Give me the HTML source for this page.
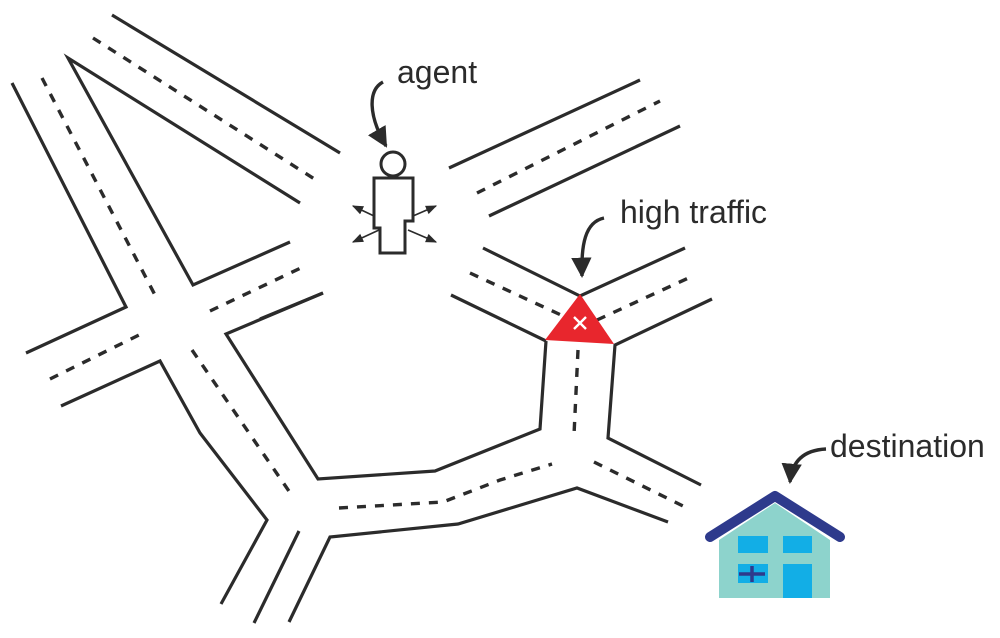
<!DOCTYPE html>
<html><head><meta charset="utf-8"><style>
html,body{margin:0;padding:0;background:#fff;}
svg{display:block}
text{font-family:"Liberation Sans",sans-serif;font-size:32px;fill:#2b2b2b}
</style></head><body>
<svg width="1000" height="638" viewBox="0 0 1000 638" xmlns="http://www.w3.org/2000/svg">
<defs>
<marker id="ah" viewBox="0 0 10 10" refX="9" refY="5" markerWidth="6" markerHeight="6" orient="auto"><path d="M0,0 L10,5 L0,10 z" fill="#2b2b2b"/></marker>
<marker id="sm" viewBox="0 0 10 10" refX="9" refY="5" markerWidth="7" markerHeight="7" orient="auto"><path d="M0,1 L10,5 L0,9 z" fill="#2b2b2b"/></marker>
</defs>
<g fill="none" stroke="#2b2b2b" stroke-width="3.2">
<polyline points="112,15 340,153"/>
<polyline points="300,203 68,58 193,285 290,242"/>
<polyline points="12,83 126,307 26,353"/>
<polyline points="61,406 160,361 200,433 267,520 221,604"/>
<polyline points="323,293 226,334 318,479 435,471 540,429 546,341"/>
<polyline points="299,531 254,623"/>
<polyline points="289,622 330,537 458,524 577,488 668,522"/>
<polyline points="449,168 640,80"/>
<polyline points="489,216 680,126"/>
<polyline points="483,248 580,296 685,248"/>
<polyline points="451,295 546,341"/>
<polyline points="712,299 615,345 608,438 701,485"/>
<polyline points="260,319 323,293"/>
</g>
<g fill="none" stroke="#2b2b2b" stroke-width="3.4" stroke-dasharray="9,9">
<polyline points="93,38 316,180"/>
<polyline points="42,78 155,295"/>
<polyline points="50,379 143,333"/>
<polyline points="210,311 305,266"/>
<polyline points="192,350 293,497"/>
<polyline points="339,508 443,502 500,480 552,464"/>
<polyline points="477,193 660,101"/>
<polyline points="470,273 561,315"/>
<polyline points="597,320 695,275"/>
<polyline points="578,350 574,435"/>
<polyline points="594,462 685,507"/>
</g>
<polygon points="580,294 545,340 614,344" fill="#e8262d"/>
<path d="M574,317 L586,329 M586,317 L574,329" stroke="#fff" stroke-width="2.4"/>
<g fill="#fff" stroke="#2b2b2b" stroke-width="3">
<circle cx="393" cy="164" r="12"/>
<polygon points="374,178 413,178 413,221 405,221 405,253 380,253 380,228 374,228"/>
</g>
<g stroke="#2b2b2b" stroke-width="1.6" marker-end="url(#sm)">
<line x1="374" y1="216" x2="353" y2="206"/>
<line x1="379" y1="230" x2="353" y2="242"/>
<line x1="413" y1="216" x2="436" y2="206"/>
<line x1="408" y1="230" x2="436" y2="242"/>
</g>
<g fill="none" stroke="#2b2b2b" stroke-width="3.4" marker-end="url(#ah)">
<path d="M383,82 C368,90 368,115 386,146"/>
<path d="M604,218 C585,222 581,245 582,276"/>
<path d="M826,449 C805,450 792,460 790,482"/>
</g>
<text x="397" y="83">agent</text>
<text x="620" y="223">high traffic</text>
<text x="830" y="457">destination</text>
<polygon points="719,598 719,540 775,503 830,540 830,598" fill="#8dd3cc"/>
<polyline points="710,537 775,496 840,537" fill="none" stroke="#2e3a8c" stroke-width="10" stroke-linecap="round" stroke-linejoin="round"/>
<rect x="738" y="536" width="30" height="17" fill="#12aee6"/>
<rect x="783" y="536" width="29" height="17" fill="#12aee6"/>
<rect x="738" y="564" width="30" height="19" fill="#12aee6"/>
<rect x="783" y="564" width="29" height="34" fill="#12aee6"/>
<path d="M739,574 H765 M752,566 V582" stroke="#2e3a8c" stroke-width="3.5"/>
</svg>
</body></html>
